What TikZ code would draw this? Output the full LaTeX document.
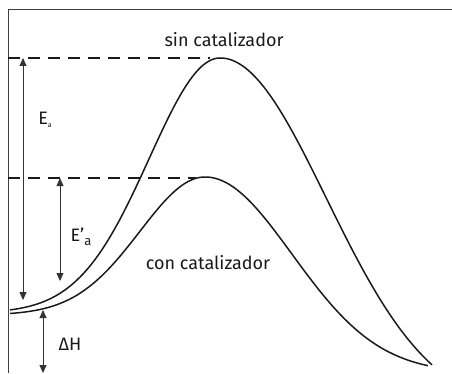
\documentclass[tikz,border=0pt]{standalone}
\usepackage{fontspec}
\setmainfont{Fira Sans}
\usetikzlibrary{arrows.meta}
\definecolor{linec}{HTML}{1A1A1A}
\definecolor{arrc}{HTML}{333333}
\begin{document}
\begin{tikzpicture}[x=1pt,y=1pt,font=\fontsize{18}{21}\selectfont,>={Triangle[length=8pt,width=7pt]},curve/.style={line width=1.5pt,draw=linec},lvl/.style={line width=1.4pt,draw=linec,dash pattern=on 12pt off 8pt},dim/.style={<->,line width=.8pt,draw=arrc,fill=arrc},lab/.style={text=linec,inner sep=0pt}]
\useasboundingbox (0,0) rectangle (452,373);
\draw[line width=1pt,draw=black!75] (8,0)--(8,363)--(452,363);
% energy levels
\coordinate (lvA) at (8,315);\coordinate (lvB) at (8,195);
\coordinate (pkA) at (210,315);\coordinate (pkB) at (196,195);
\draw[lvl] (lvA)--(pkA);\draw[lvl] (lvB)--(pkB);
% reaction profiles
\draw[curve] plot[domain=10:220,samples=70] (\x,{60+255*exp(-(((\x-220)/100)^2))}) -- plot[domain=220:432,samples=70] (\x,{-40+355*exp(-(((\x-220)/150)^2))});
\draw[curve] plot[domain=10:205,samples=70] (\x,{58+138*exp(-(((\x-205)/92)^2))}) -- plot[domain=205:428,samples=70] (\x,{196*exp(-(((\x-205)/123)^2))});
% dimension arrows
\coordinate (eaT) at (23,315);\coordinate (eaB) at (23,73);
\coordinate (ecT) at (60,195);\coordinate (ecB) at (60,92);
\coordinate (dhT) at (43,63);\coordinate (dhB) at (43,0);
\draw[dim] (eaT)--(eaB);\draw[dim] (ecT)--(ecB);\draw[dim] (dhT)--(dhB);
\node[lab] (ea) at (45,253) {E\raisebox{-3pt}{\fontsize{7}{8}\selectfont a}};
\node[lab] (ec) at (81,136) {E’\raisebox{-4pt}{\fontsize{13}{14}\selectfont a}};
\node[lab] (dh) at (70,29) {ΔH};
\node[lab] (sin) at (224,333) {sin catalizador};
\node[lab] (con) at (208,110) {con catalizador};
\end{tikzpicture}
\end{document}
